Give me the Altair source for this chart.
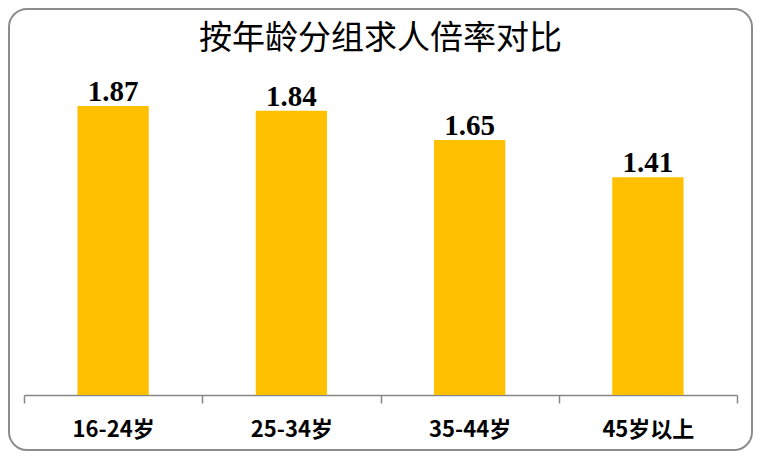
import altair as alt
import pandas as pd

categories = ["16-24岁", "25-34岁", "35-44岁", "45岁以上"]
values = [1.87, 1.84, 1.65, 1.41]
labels = ["1.87", "1.84", "1.65", "1.41"]
title_text = "按年龄分组求人倍率对比"

df = pd.DataFrame({"cat": categories, "val": values, "label": labels})
frame_df = pd.DataFrame({"k": [0]})
title_df = pd.DataFrame({"t": [title_text]})

x_enc = alt.X(
    "cat:N",
    sort=categories,
    scale=alt.Scale(paddingInner=0, paddingOuter=0),
    axis=alt.Axis(
        title=None,
        labelAngle=0,
        tickBand="extent",
        domainColor="#868686",
        tickColor="#868686",
        domainWidth=1.5,
        tickWidth=1.5,
        tickSize=8,
        labelFont="Noto Sans CJK SC",
        labelFontWeight="bold",
        labelFontSize=22,
        labelColor="#000000",
        labelPadding=16,
    ),
)
y_enc = alt.Y("val:Q", scale=alt.Scale(domain=[0, 2.0]), axis=None)

bars = alt.Chart(df).mark_bar(
    color="#FFC000", width=alt.RelativeBandSize(0.4)
).encode(x=x_enc, y=y_enc)

text = alt.Chart(df).mark_text(
    font="Liberation Serif",
    fontWeight="bold",
    fontSize=29,
    baseline="alphabetic",
    dy=-5,
    color="#000000",
).encode(x=alt.X("cat:N", sort=categories), y=y_enc, text="label:N")

border = alt.Chart(frame_df).mark_rect(
    fill="#ffffff",
    fillOpacity=0,
    stroke="#8c8c8c",
    strokeWidth=2,
    cornerRadius=18,
).encode(
    x=alt.value(-15), x2=alt.value(728), y=alt.value(-77), y2=alt.value(364)
)

title = alt.Chart(title_df).mark_text(
    font="Noto Sans CJK SC",
    fontSize=33,
    fontWeight="normal",
    color="#000000",
    align="center",
    baseline="alphabetic",
).encode(x=alt.value(356.5), y=alt.value(-37), text="t:N")

chart = (
    alt.layer(border, bars, text, title)
    .properties(
        width=713,
        height=309,
        padding={"left": 16, "top": 78, "right": 16, "bottom": 56},
        autosize=alt.AutoSizeParams(type="none"),
        background="#ffffff",
    )
    .configure_view(stroke=None)
)

chart.save("out.html", embed_options={"renderer": "svg", "actions": False})
